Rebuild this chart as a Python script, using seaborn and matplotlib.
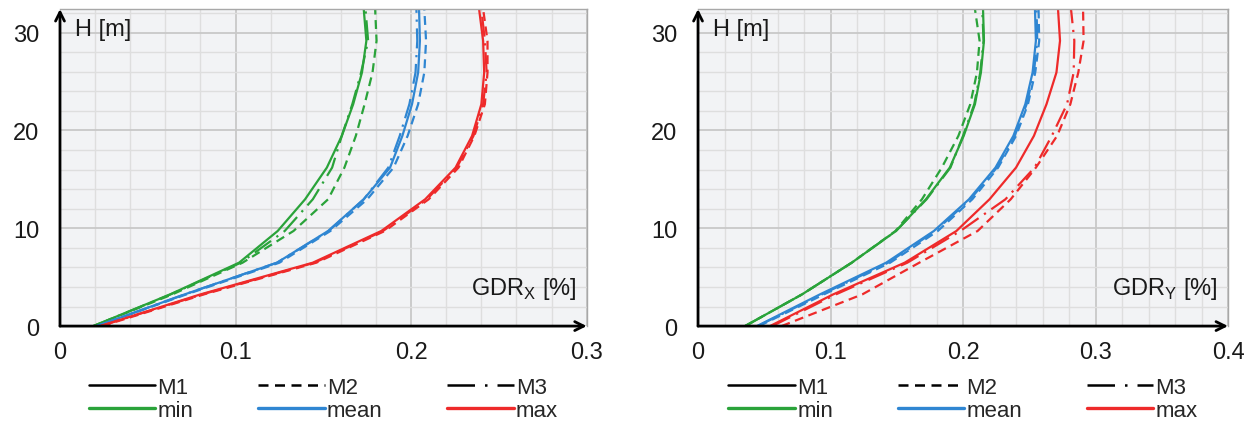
#!/usr/bin/env python3
import pandas as pd
import matplotlib
matplotlib.use('Agg')
import matplotlib.pyplot as plt
from matplotlib.lines import Line2D
from matplotlib.ticker import MultipleLocator, NullFormatter
import seaborn as sns

# ─── Datos ─────────────────────────────────────────────────────────────────────
# alturas de piso [m]
H = [0.0, 3.24, 6.48, 9.72, 12.96, 16.2, 19.44, 22.68, 25.92, 29.16, 32.4]

# GDR_X [%]
gdrx_min_m1 = [0.019, 0.0627, 0.102, 0.124, 0.1396, 0.152, 0.1605, 0.167, 0.172, 0.1745, 0.173]
gdrx_min_m2 = [0.019, 0.064, 0.104, 0.133, 0.1527, 0.162, 0.1685, 0.1735, 0.178, 0.1803, 0.1795]
gdrx_min_m3 = [0.019, 0.063, 0.103, 0.128, 0.144, 0.155, 0.1605, 0.1665, 0.1715, 0.1755, 0.174]
gdrx_mean_m1 = [0.021, 0.071, 0.1236, 0.1527, 0.173, 0.188, 0.195, 0.2005, 0.204, 0.205, 0.2045]
gdrx_mean_m2 = [0.021, 0.072, 0.125, 0.154, 0.175, 0.190, 0.198, 0.204, 0.2075, 0.2085, 0.2075]
gdrx_mean_m3 = [0.021, 0.071, 0.1236, 0.153, 0.173, 0.187, 0.1935, 0.199, 0.2025, 0.2035, 0.203]
gdrx_max_m1 = [0.023, 0.080, 0.144, 0.183, 0.208, 0.2253, 0.2347, 0.240, 0.2416, 0.241, 0.2387]
gdrx_max_m2 = [0.024, 0.082, 0.146, 0.185, 0.210, 0.227, 0.236, 0.242, 0.2435, 0.2435, 0.241]
gdrx_max_m3 = [0.023, 0.081, 0.145, 0.184, 0.209, 0.226, 0.2355, 0.241, 0.243, 0.242, 0.240]

# GDR_Y [%]
gdry_min_m1 = [0.0355, 0.0785, 0.116, 0.1494, 0.172, 0.19, 0.2005, 0.209, 0.2135, 0.2158, 0.2151]
gdry_min_m2 = [0.0355, 0.0785, 0.116, 0.149, 0.169, 0.184, 0.1965, 0.2055, 0.2105, 0.2125, 0.209]
gdry_min_m3 = [0.0355, 0.0785, 0.116, 0.1494, 0.1725, 0.1905, 0.200, 0.2085, 0.213, 0.2155, 0.2145]
gdry_mean_m1 = [0.0445, 0.092, 0.142, 0.178, 0.2045, 0.2245, 0.238, 0.247, 0.2525, 0.255, 0.2543]
gdry_mean_m2 = [0.046, 0.095, 0.145, 0.181, 0.207, 0.2265, 0.240, 0.249, 0.2545, 0.2575, 0.257]
gdry_mean_m3 = [0.045, 0.0935, 0.1435, 0.179, 0.2055, 0.2255, 0.239, 0.248, 0.2535, 0.256, 0.2555]
gdry_max_m1 = [0.0543, 0.102, 0.156, 0.195, 0.220, 0.240, 0.2535, 0.263, 0.2705, 0.2732, 0.2717]
gdry_max_m2 = [0.063, 0.124, 0.167, 0.211, 0.236, 0.255, 0.271, 0.281, 0.287, 0.291, 0.2906]
gdry_max_m3 = [0.056, 0.104, 0.158, 0.198, 0.232, 0.254, 0.267, 0.2785, 0.2835, 0.284, 0.2815]

MODELS = ['M1', 'M2', 'M3']
STATS = ['min', 'mean', 'max']
X_TICKS_L = [0, 0.1, 0.2, 0.3]
X_TICKS_R = [0, 0.1, 0.2, 0.3, 0.4]
Y_TICKS = [0, 10, 20, 30]

# ─── Estilos ──────────────────────────────────────────────────────────────────
PALETTE = {'min': '#2aa33a', 'mean': '#2f86d2', 'max': '#ee2a2a'}
DASHES = {'M1': '', 'M2': (4, 2.5), 'M3': (9, 3, 1, 3)}
LEG_DASHES = {'M1': '-', 'M2': (0, (4, 2.6)), 'M3': (0, (11, 4, 1, 4))}
BG = '#f2f3f5'
TXT = '#1a1a1a'

sns.set_style('white')
plt.rcParams['font.family'] = ['Liberation Sans', 'DejaVu Sans']


def to_long(curves):
    rows = []
    for (stat, model), vals in curves.items():
        for h, v in zip(H, vals):
            rows.append({'GDR': v, 'H': h, 'stat': stat, 'model': model})
    return pd.DataFrame(rows)


df_x = to_long({
    ('min', 'M1'): gdrx_min_m1, ('min', 'M2'): gdrx_min_m2, ('min', 'M3'): gdrx_min_m3,
    ('mean', 'M1'): gdrx_mean_m1, ('mean', 'M2'): gdrx_mean_m2, ('mean', 'M3'): gdrx_mean_m3,
    ('max', 'M1'): gdrx_max_m1, ('max', 'M2'): gdrx_max_m2, ('max', 'M3'): gdrx_max_m3,
})
df_y = to_long({
    ('min', 'M1'): gdry_min_m1, ('min', 'M2'): gdry_min_m2, ('min', 'M3'): gdry_min_m3,
    ('mean', 'M1'): gdry_mean_m1, ('mean', 'M2'): gdry_mean_m2, ('mean', 'M3'): gdry_mean_m3,
    ('max', 'M1'): gdry_max_m1, ('max', 'M2'): gdry_max_m2, ('max', 'M3'): gdry_max_m3,
})


def draw_panel(ax, df, xmax, xticks, xlabel):
    ax.set_facecolor(BG)
    sns.lineplot(data=df, x='GDR', y='H', hue='stat', style='model',
                 hue_order=STATS, style_order=MODELS, palette=PALETTE,
                 dashes=DASHES, estimator=None, sort=False, orient='y',
                 linewidth=1.6, legend=False, ax=ax)
    ax.set_xlim(0, xmax)
    ax.set_ylim(0, 32.4)
    ax.set_xticks(xticks)
    ax.set_xticklabels([f'{t:g}' for t in xticks])
    ax.set_yticks(Y_TICKS)
    ax.xaxis.set_minor_locator(MultipleLocator(0.02))
    ax.yaxis.set_minor_locator(MultipleLocator(2))
    ax.xaxis.set_minor_formatter(NullFormatter())
    ax.yaxis.set_minor_formatter(NullFormatter())
    ax.grid(which='minor', color='#dedede', lw=1.0)
    ax.grid(which='major', color='#c8c8c8', lw=1.3)
    ax.set_axisbelow(True)
    ax.tick_params(axis='x', which='both', length=0, pad=11, labelsize=17, colors=TXT)
    ax.tick_params(axis='y', which='both', length=0, pad=15, labelsize=17, colors=TXT)
    ax.set_xlabel('')
    ax.set_ylabel('')

    for s in ['left', 'bottom']:
        ax.spines[s].set_visible(False)
    for s in ['top', 'right']:
        ax.spines[s].set_color('#a8a8a8')
        ax.spines[s].set_linewidth(1.0)

    arrow = dict(arrowstyle='->', color='black', lw=2, shrinkA=0, shrinkB=0,
                 mutation_scale=16)
    ax.annotate('', xy=(1.0, 0), xytext=(0, 0), xycoords='axes fraction',
                arrowprops=arrow, annotation_clip=False)
    ax.annotate('', xy=(0, 1.0), xytext=(0, 0), xycoords='axes fraction',
                arrowprops=arrow, annotation_clip=False)

    ax.text(0.028, 0.937, 'H [m]', transform=ax.transAxes, ha='left',
            va='center', fontsize=17, color=TXT)
    ax.text(0.981, 0.12, xlabel, transform=ax.transAxes, ha='right',
            va='center', fontsize=17, color=TXT)

    # leyenda: fila 1 modelos, fila 2 estadísticos
    handles, labels = [], []
    for model, stat in zip(MODELS, STATS):
        handles.append(Line2D([], [], color='black', lw=1.8,
                              linestyle=LEG_DASHES[model]))
        labels.append(model)
        handles.append(Line2D([], [], color=PALETTE[stat], lw=2.4))
        labels.append(stat)
    ax.legend(handles, labels, ncol=3, loc='upper center',
              bbox_to_anchor=(0.5, -0.125), frameon=False, fontsize=16,
              handlelength=3.0, handletextpad=0.1, columnspacing=2.9,
              labelspacing=0.08, borderpad=0)


fig = plt.figure(figsize=(12.55, 4.27), dpi=100)
ax1 = fig.add_axes([0.0478, 0.234, 0.4197, 0.7424])
ax2 = fig.add_axes([0.5562, 0.234, 0.4223, 0.7424])

draw_panel(ax1, df_x, 0.3, X_TICKS_L, r'GDR$_{\mathregular{X}}$ [%]')
draw_panel(ax2, df_y, 0.4, X_TICKS_R, r'GDR$_{\mathregular{Y}}$ [%]')

fig.savefig('out.png', dpi=100, facecolor='white')
